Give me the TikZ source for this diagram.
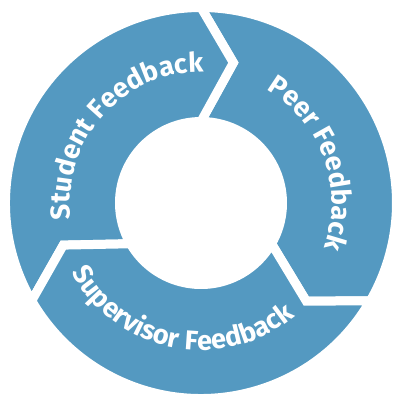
\documentclass[tikz,border=0pt]{standalone}
\usepackage{fontspec}
\setmainfont{Fira Sans}
\usepackage{xcolor}
\usetikzlibrary{decorations.text}

\definecolor{ringblue}{RGB}{84,153,193}
\newcommand{\ringfont}{\fontsize{15.5}{18}\selectfont\bfseries\color{white}}

\begin{document}
\begin{tikzpicture}[
	segment/.style={fill=ringblue, draw=white, line width=0.18cm, line join=miter},
	ringtext/.style={decorate, decoration={text along path, text align=center, text={|\ringfont|#1}}}]
	%\draw [help lines] (-4,-4) grid (4,4);
	\useasboundingbox (-4.02,-3.84) rectangle (3.84,4.06);
	\foreach \s in {90,210,330}
		\filldraw [segment] (\s:3.91) arc [start angle=\s, end angle=\s-120, radius=3.91]
			-- (\s-133:2.88) -- (\s-120:1.63) arc [start angle=\s-120, end angle=\s, radius=1.63]
			-- (\s-13:2.88) -- cycle;
	\path [ringtext={Student Feedback}] (208:2.62) arc [start angle=208, end angle=68, radius=2.62];
	\path [ringtext={Peer Feedback}] (90:2.62) arc [start angle=90, end angle=-50, radius=2.62];
	\path [ringtext={Supervisor Feedback}] (189:2.94) arc [start angle=189, end angle=329, radius=2.94];
\end{tikzpicture}
\end{document}
